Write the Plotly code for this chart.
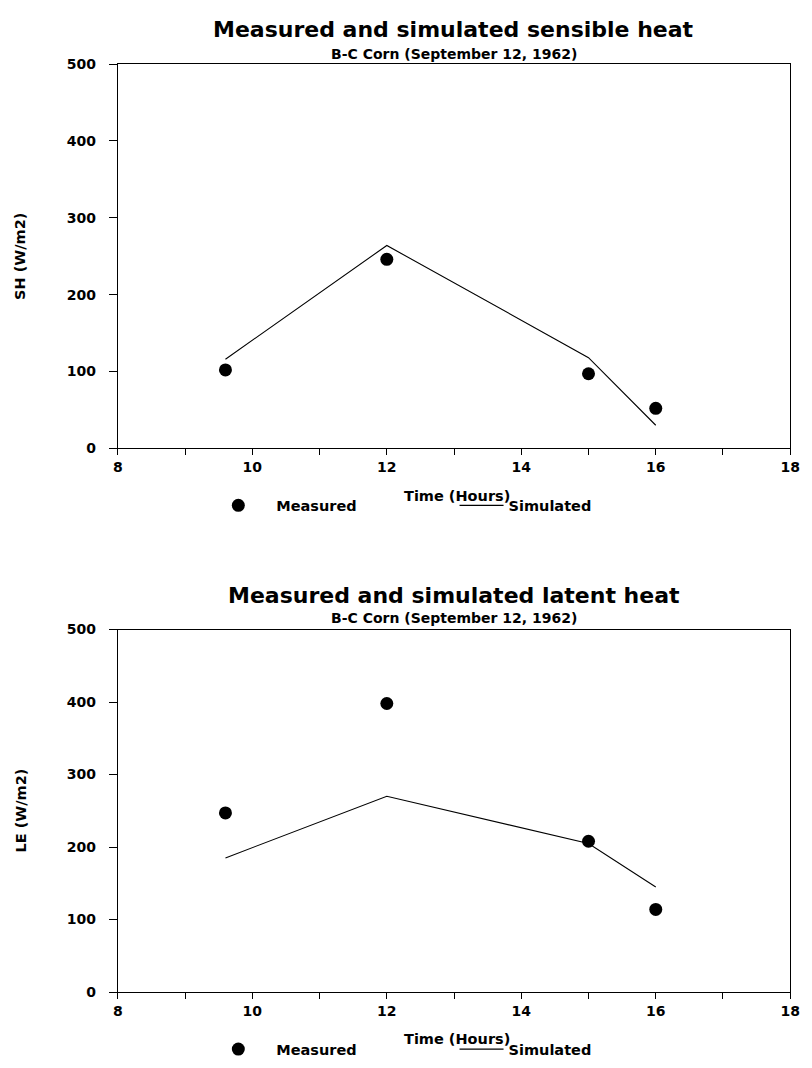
import plotly.graph_objects as go

# ---- data ----
hours = [9.6, 12, 15, 16]
sh_measured = [102, 246, 97, 52]
sh_simulated = [116, 264, 118, 30]
le_measured = [247, 398, 208, 114]
le_simulated = [185, 270, 205, 145]

x_tickvals = [8, 9, 10, 11, 12, 13, 14, 15, 16, 17, 18]
x_ticktext = ["8", "", "10", "", "12", "", "14", "", "16", "", "18"]
y_tickvals = [0, 100, 200, 300, 400, 500]

titles = ["Measured and simulated sensible heat", "Measured and simulated latent heat"]
subtitle = "B-C Corn (September 12, 1962)"
y_titles = ["SH (W/m2)", "LE (W/m2)"]
x_title = "Time (Hours)"

W, H = 812, 1068
FONT = "DejaVu Sans, Verdana, sans-serif"


def py(pix):
    return (H - pix) / H


def px(pix):
    return pix / W


fig = go.Figure()

# top subplot
fig.add_trace(go.Scatter(x=hours, y=sh_measured, mode="markers", name="Measured",
                         marker=dict(color="black", size=13), xaxis="x", yaxis="y",
                         legend="legend"))
fig.add_trace(go.Scatter(x=hours, y=sh_simulated, mode="lines", name="Simulated",
                         line=dict(color="black", width=1.1), xaxis="x", yaxis="y",
                         legend="legend2"))
# bottom subplot
fig.add_trace(go.Scatter(x=hours, y=le_measured, mode="markers", name="Measured",
                         marker=dict(color="black", size=13), xaxis="x2", yaxis="y2",
                         legend="legend3"))
fig.add_trace(go.Scatter(x=hours, y=le_simulated, mode="lines", name="Simulated",
                         line=dict(color="black", width=1.1), xaxis="x2", yaxis="y2",
                         legend="legend4"))

xdom = [px(115), px(800)]
top_dom = [py(447), py(57)]
bot_dom = [py(999), py(631)]

tick_font = dict(family=FONT, size=14, color="black", weight="bold")


def xax(anchor):
    return dict(domain=xdom, range=[8, 18], anchor=anchor, tickmode="array",
                tickvals=x_tickvals, ticktext=x_ticktext, ticks="outside", ticklen=6,
                tickwidth=1, tickcolor="black", showline=True, linecolor="black",
                linewidth=1, mirror=True, showgrid=False, zeroline=False,
                tickfont=tick_font, fixedrange=True)


def yax(anchor, dom):
    return dict(domain=dom, range=[0, 500], anchor=anchor, tickmode="array",
                tickvals=y_tickvals, ticks="outside", ticklen=8, tickwidth=1,
                tickcolor="black", showline=True, linecolor="black", linewidth=1,
                mirror=True, showgrid=False, zeroline=False, ticklabelstandoff=10,
                tickfont=tick_font, fixedrange=True)


legend_font = dict(family=FONT, size=14.5, color="black", weight="bold")


def leg(xpix, ypix, iw):
    return dict(x=px(xpix), y=py(ypix), xanchor="left", yanchor="middle",
                orientation="h", font=legend_font, bgcolor="rgba(0,0,0,0)",
                itemwidth=iw, borderwidth=0)


annotations = []
for tl, ymid_t, ymid_s in [(titles[0], 22, 47), (titles[1], 596, 619)]:
    annotations.append(dict(text="<b>" + tl + "</b>", x=px(457), y=py(ymid_t),
                            xref="paper", yref="paper", showarrow=False,
                            xanchor="center", yanchor="middle",
                            font=dict(family=FONT, size=22, color="black")))
    annotations.append(dict(text="<b>" + subtitle + "</b>", x=px(457), y=py(ymid_s),
                            xref="paper", yref="paper", showarrow=False,
                            xanchor="center", yanchor="middle",
                            font=dict(family=FONT, size=14, color="black")))

for yt, ymid in [(y_titles[0], 252), (y_titles[1], 815)]:
    annotations.append(dict(text="<b>" + yt + "</b>", x=px(16), y=py(ymid),
                            xref="paper", yref="paper", showarrow=False,
                            textangle=-90, xanchor="center", yanchor="middle",
                            font=dict(family=FONT, size=14.5, color="black")))

for ymid in [495, 1047]:
    annotations.append(dict(text="<b>" + x_title + "</b>", x=px(460), y=py(ymid),
                            xref="paper", yref="paper", showarrow=False,
                            xanchor="center", yanchor="middle",
                            font=dict(family=FONT, size=14.5, color="black")))

fig.update_layout(
    width=W, height=H,
    margin=dict(l=0, r=0, t=0, b=0),
    paper_bgcolor="white", plot_bgcolor="white",
    showlegend=True,
    xaxis=xax("y"), yaxis=yax("x", top_dom),
    xaxis2=xax("y2"), yaxis2=yax("x2", bot_dom),
    legend=leg(199, 505, 66), legend2=leg(458, 505, 44),
    legend3=leg(199, 1057, 66), legend4=leg(458, 1057, 44),
    annotations=annotations,
    font=dict(family=FONT, color="black"),
)

fig.write_html("out.html")
